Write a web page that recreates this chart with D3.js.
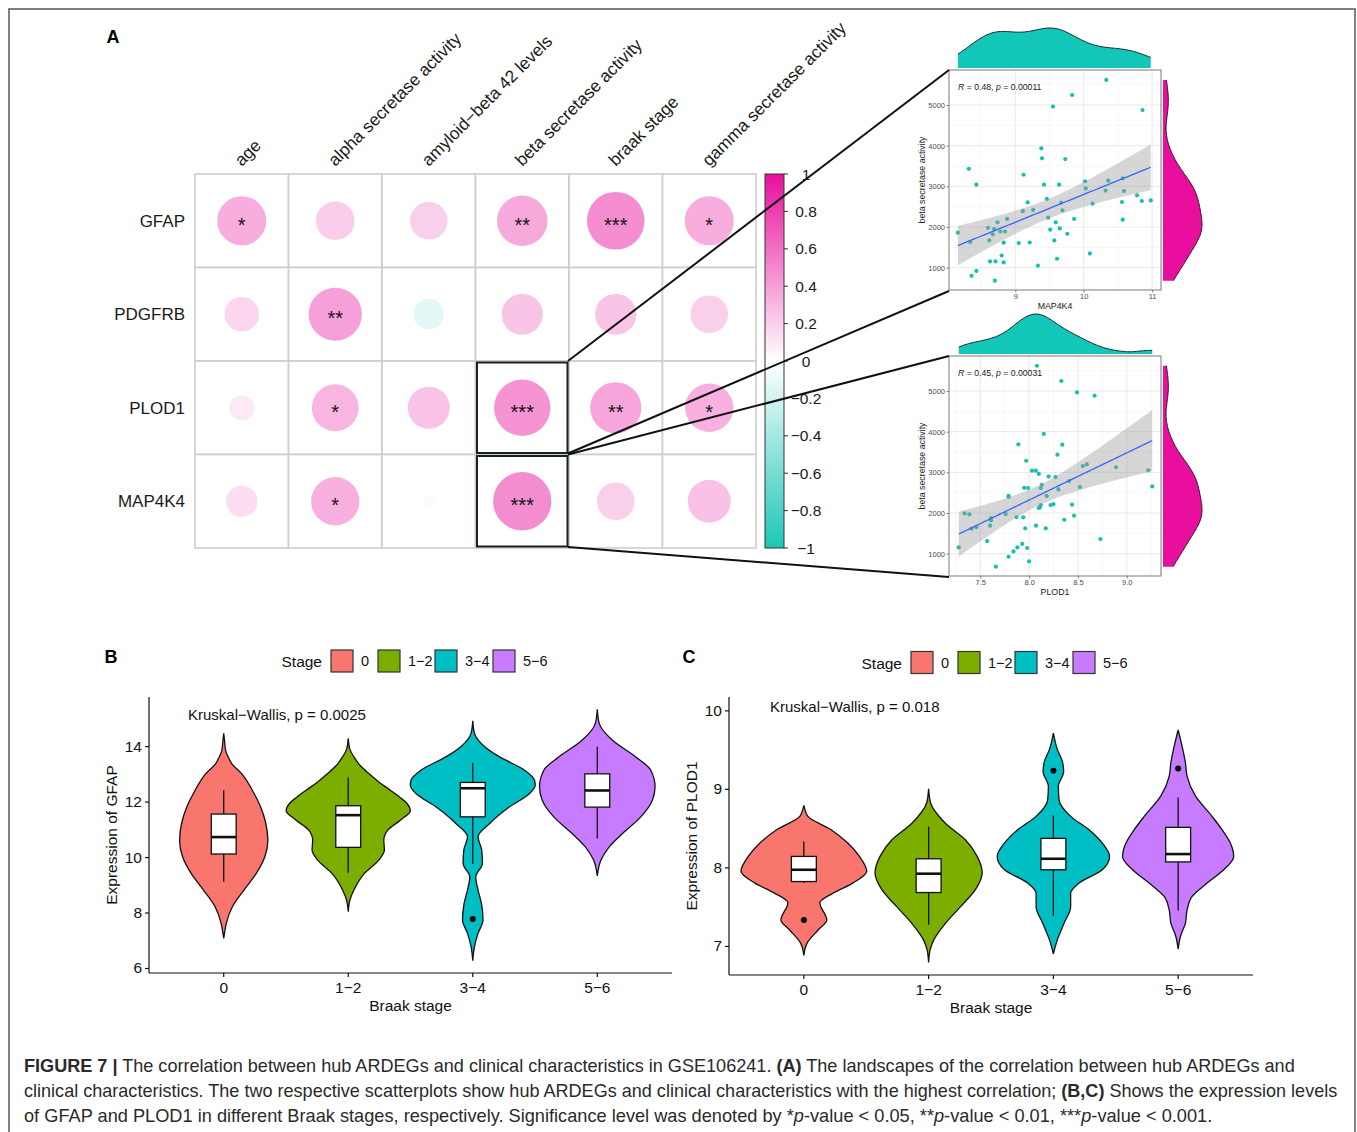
<!DOCTYPE html>
<html>
<head>
<meta charset="utf-8">
<script src="https://cdn.jsdelivr.net/npm/d3@7/dist/d3.min.js"></script>
<style>
  html, body { margin: 0; padding: 0; background: #fff; }
  svg { display: block; }
  text { font-family: "Liberation Sans", Arial, Helvetica, sans-serif; }
</style>
</head>
<body>
<svg id="fig" width="1357" height="1132"></svg>
<script>
// ---------------- Panel A: correlation landscape ----------------
const genes  = ["GFAP", "PDGFRB", "PLOD1", "MAP4K4"];
const traits = ["age", "alpha secretase activity", "amyloid\u2212beta 42 levels",
                "beta secretase activity", "braak stage", "gamma secretase activity"];
const corrGFAP   = [0.34, 0.21, 0.20, 0.36, 0.47, 0.34];
const corrPDGFRB = [0.17, 0.40, -0.13, 0.24, 0.24, 0.20];
const corrPLOD1  = [0.09, 0.31, 0.25, 0.45, 0.37, 0.33];
const corrMAP4K4 = [0.14, 0.33, 0.02, 0.48, 0.20, 0.26];
const starsGFAP   = ["*", "", "", "**", "***", "*"];
const starsPDGFRB = ["", "**", "", "", "", ""];
const starsPLOD1  = ["", "*", "", "***", "**", "*"];
const starsMAP4K4 = ["", "*", "", "***", "", ""];
const colorLegendTicks = [1, 0.8, 0.6, 0.4, 0.2, 0, -0.2, -0.4, -0.6, -0.8, -1];
const highlighted = [["PLOD1", "beta secretase activity"], ["MAP4K4", "beta secretase activity"]];

// scatter 1: MAP4K4 vs beta secretase activity
const map4k4Expr = [8.16, 8.32, 8.43, 8.34, 8.36, 8.43, 8.60, 8.62, 8.67, 8.69, 8.74, 8.78, 8.85, 8.83, 8.88,
  8.63, 8.71, 8.80, 8.83, 8.70, 9.05, 9.21, 9.11, 9.18, 9.26, 9.12, 9.33, 9.38, 9.39, 9.42, 9.46, 9.48, 9.51,
  9.55, 9.57, 9.59, 9.61, 9.64, 9.65, 9.67, 9.69, 9.73, 9.76, 9.83, 9.86, 10.02, 10.03, 10.09, 10.13, 10.33,
  10.32, 10.36, 10.57, 10.56, 10.57, 10.59, 10.78, 10.85, 10.86, 10.98];
const betaSecMAP = [1860, 3430, 3040, 1630, 800, 920, 1980, 1670, 1820, 1950, 2115, 1890, 1890, 1615, 2200,
  1155, 1155, 1300, 1130, 680, 1605, 1620, 2390, 2605, 2420, 3285, 1050, 3935, 3690, 3040, 2690, 2230, 1935,
  4960, 1670, 2115, 1220, 3040, 1965, 2600, 2410, 3670, 1835, 5245, 2200, 3125, 2950, 1350, 2575, 5615,
  2895, 3140, 3195, 2615, 2180, 2885, 2780, 2640, 4875, 2655];

// scatter 2: PLOD1 vs beta secretase activity
const plod1Expr = [7.28, 7.34, 7.39, 7.41, 7.46, 7.57, 7.60, 7.61, 7.61, 7.66, 7.76, 7.79, 7.79, 7.79, 7.84,
  7.87, 7.88, 7.89, 7.93, 7.94, 7.95, 7.96, 7.97, 7.98, 7.99, 8.00, 8.03, 8.07, 8.07, 8.08, 8.10, 8.10, 8.11,
  8.12, 8.13, 8.12, 8.15, 8.17, 8.18, 8.20, 8.22, 8.25, 8.27, 8.29, 8.30, 8.33, 8.34, 8.36, 8.41, 8.44, 8.46,
  8.49, 8.52, 8.55, 8.59, 8.67, 8.73, 8.89, 9.22, 9.26];
const betaSecPLOD = [1155, 1990, 1965, 1615, 1650, 1310, 1690, 1875, 1820, 680, 1975, 2395, 2425, 925, 1055,
  1900, 1155, 3690, 1240, 1895, 2620, 1625, 3285, 1140, 2615, 810, 3040, 1690, 3040, 5620, 2960, 2125, 2140,
  2615, 2695, 2195, 3945, 1625, 2420, 2895, 2195, 2220, 2885, 3435, 2580, 5245, 3680, 1835, 2785, 2205, 1935,
  4965, 2640, 3155, 3195, 4885, 1360, 3125, 3050, 2655];
const scatterR = ["0.48", "0.45"];
const scatterP = ["0.00011", "0.00031"];

// ---------------- Panels B and C: expression by Braak stage ----------------
const stages = ["0", "1\u22122", "3\u22124", "5\u22126"];
const stageColors = ["#F8766D", "#7CAE00", "#00BFC4", "#C77CFF"];

// violin outlines: [expression, density]
const gfapDensity = [
  [[14.46,0],[14.2,0.8],[13.83,2],[13.61,4.5],[13.37,8],[13.01,18],[12.41,28.7],[11.81,37],[11.21,42.3],[10.61,44.3],[10.01,41.3],[9.41,32.7],[8.81,20.3],[8.21,8.7],[7.61,2.6],[7.3,1],[7.07,0]],
  [[14.28,0],[13.9,1.5],[13.61,5.7],[13.3,12],[13.01,20.7],[12.7,31],[12.41,42.3],[12.15,52],[11.93,59],[11.67,62.3],[11.33,52.3],[10.97,39.7],[10.61,35.7],[10.25,36.3],[9.89,30.7],[9.41,16.3],[8.81,5.7],[8.45,1.7],[8.03,0]],
  [[14.91,0],[14.46,1.7],[13.98,12],[13.61,27],[13.13,52],[12.77,62],[12.59,62.7],[12.29,57],[11.81,37],[11.21,17],[10.73,5.3],[10.25,9],[9.77,9.7],[9.29,3],[8.81,5.3],[8.33,8.7],[7.73,10.3],[7.25,5.3],[6.77,1.7],[6.26,0]],
  [[15.33,0],[14.81,2],[14.21,15.3],[13.61,38.7],[13.13,53.7],[12.53,58],[12.05,55.3],[11.45,43.7],[10.85,25.3],[10.37,12],[9.89,3.7],[9.32,0]]
];
const gfapWhiskerLow  = [9.11, 9.43, 9.75, 10.67];
const gfapQ1          = [10.11, 10.35, 11.45, 11.80];
const gfapMedian      = [10.72, 11.51, 12.48, 12.40];
const gfapQ3          = [11.55, 11.85, 12.69, 13.00];
const gfapWhiskerHigh = [12.41, 12.87, 13.40, 13.98];
const gfapOutliers    = [[], [], [7.77], []];
const gfapTicks = [6, 8, 10, 12, 14];

const plod1Density = [
  [[8.79,0],[8.72,1.5],[8.65,4],[8.48,27.3],[8.31,44],[8.14,55.7],[7.95,63],[7.80,49],[7.67,29],[7.55,16],[7.33,23],[7.20,14],[7.03,3],[6.88,0]],
  [[9.00,0],[8.82,2],[8.56,17],[8.35,37],[8.14,48.7],[7.93,53.7],[7.72,47],[7.50,32],[7.29,17],[7.08,5.3],[6.95,1.5],[6.79,0]],
  [[9.71,0],[9.50,4],[9.35,9],[9.22,10.3],[9.03,5],[8.86,5.7],[8.65,17.3],[8.48,35.7],[8.31,49],[8.14,56.3],[7.97,49],[7.80,25.7],[7.67,17.3],[7.50,17.3],[7.29,10.7],[7.08,4],[6.90,0]],
  [[9.75,0],[9.54,4],[9.33,7.3],[9.16,9],[8.91,17.3],[8.65,34],[8.48,44],[8.31,52.3],[8.14,55.7],[7.97,45.7],[7.80,29],[7.63,14],[7.46,9],[7.29,7.3],[7.12,2.3],[6.96,0]]
];
const plod1WhiskerLow  = [7.80, 7.27, 7.38, 7.45];
const plod1Q1          = [7.82, 7.68, 7.97, 8.07];
const plod1Median      = [7.97, 7.92, 8.11, 8.17];
const plod1Q3          = [8.14, 8.11, 8.37, 8.51];
const plod1WhiskerHigh = [8.33, 8.52, 8.66, 8.89];
const plod1Outliers    = [[7.33], [], [9.23], [9.26]];
const plod1Ticks = [7, 8, 9, 10];

// ---------------- drawing ----------------
const svg = d3.select("#fig");
const defs = svg.append("defs");

// outer frame
svg.append("path").attr("d", "M9,1140V9H1355V1140")
  .attr("fill", "none").attr("stroke", "#555").attr("stroke-width", 1.5);

// panel letters
[["A", 113, 43], ["B", 111, 663], ["C", 689, 663]].forEach(([t, x, y]) => {
  svg.append("text").attr("x", x).attr("y", y).attr("text-anchor", "middle")
    .attr("font-size", 18).attr("font-weight", "bold").attr("fill", "#000").text(t);
});

// ----- correlation matrix -----
const gA = svg.append("g");
const xA = d3.scaleBand().domain(traits).range([195, 756]);
const yA = d3.scaleBand().domain(genes).range([174, 548]);
const rA = d3.scaleSqrt().domain([0, 1]).range([0, 0.45 * xA.bandwidth()]);
const colA = d3.scaleLinear().domain([-1, 0, 1]).range(["#1CC7B7", "#FFFFFF", "#E80F9D"]);
const corrRows = [corrGFAP, corrPDGFRB, corrPLOD1, corrMAP4K4];
const starRows = [starsGFAP, starsPDGFRB, starsPLOD1, starsMAP4K4];
const cells = [];
genes.forEach((g, i) => traits.forEach((t, j) =>
  cells.push({ gene: g, trait: t, r: corrRows[i][j], star: starRows[i][j] })));
const cxA = d => xA(d.trait) + xA.bandwidth() / 2;
const cyA = d => yA(d.gene) + yA.bandwidth() / 2;

gA.selectAll("rect.cell").data(cells).join("rect").attr("class", "cell")
  .attr("x", d => xA(d.trait)).attr("y", d => yA(d.gene))
  .attr("width", xA.bandwidth()).attr("height", yA.bandwidth())
  .attr("fill", "#fff").attr("stroke", "#CDCDCD").attr("stroke-width", 1.6);
gA.selectAll("circle").data(cells).join("circle")
  .attr("cx", cxA).attr("cy", cyA)
  .attr("r", d => rA(Math.abs(d.r))).attr("fill", d => colA(d.r));
gA.selectAll("text.star").data(cells.filter(d => d.star)).join("text").attr("class", "star")
  .attr("x", cxA).attr("y", d => cyA(d) + 11).attr("text-anchor", "middle")
  .attr("font-size", 20).attr("fill", "#111").text(d => d.star);

gA.selectAll("text.row").data(genes).join("text").attr("class", "row")
  .attr("x", 185).attr("y", d => yA(d) + yA.bandwidth() / 2 + 6)
  .attr("text-anchor", "end").attr("font-size", 17).attr("fill", "#1a1a1a").text(d => d);
gA.selectAll("text.col").data(traits).join("text").attr("class", "col")
  .attr("transform", d => `translate(${xA(d) + xA.bandwidth() / 2},167) rotate(-45)`)
  .attr("font-size", 17.3).attr("fill", "#1a1a1a").text(d => d);

highlighted.forEach(([g, t]) => {
  gA.append("rect").attr("x", xA(t) + 1.5).attr("y", yA(g) + 1.5)
    .attr("width", xA.bandwidth() - 3).attr("height", yA.bandwidth() - 3)
    .attr("fill", "none").attr("stroke", "#152020").attr("stroke-width", 2);
});

// colour legend
const cbY = d3.scaleLinear().domain([-1, 1]).range([548, 174]);
const grad = defs.append("linearGradient").attr("id", "cbGrad")
  .attr("x1", 0).attr("y1", 1).attr("x2", 0).attr("y2", 0);
d3.range(-1, 1.001, 0.125).forEach(v => grad.append("stop")
  .attr("offset", (v + 1) / 2).attr("stop-color", colA(v)));
gA.append("rect").attr("x", 765).attr("y", cbY(1)).attr("width", 19)
  .attr("height", cbY(-1) - cbY(1)).attr("fill", "url(#cbGrad)")
  .attr("stroke", "#333").attr("stroke-width", 1);
const fmtLeg = d3.format("~g");
colorLegendTicks.forEach(v => {
  gA.append("line").attr("x1", 784).attr("x2", 788).attr("y1", cbY(v)).attr("y2", cbY(v))
    .attr("stroke", "#333").attr("stroke-width", 1);
  gA.append("text").attr("x", 806).attr("y", cbY(v) + 5.5).attr("text-anchor", "middle")
    .attr("font-size", 15.5).attr("fill", "#1a1a1a").text(fmtLeg(v));
});

// ----- scatter panels with marginal densities -----
function linreg(xs, ys) {
  const n = xs.length, mx = d3.mean(xs), my = d3.mean(ys);
  let sxx = 0, sxy = 0;
  xs.forEach((x, i) => { sxx += (x - mx) ** 2; sxy += (x - mx) * (ys[i] - my); });
  const b = sxy / sxx, a = my - b * mx;
  let sse = 0;
  xs.forEach((x, i) => { sse += (ys[i] - a - b * x) ** 2; });
  return { a, b, mx, sxx, n, s: Math.sqrt(sse / (n - 2)) };
}
function kde(values, n = 160) {
  const sorted = values.slice().sort(d3.ascending);
  const iqr = d3.quantileSorted(sorted, 0.75) - d3.quantileSorted(sorted, 0.25);
  const bw = 0.9 * Math.min(d3.deviation(values), iqr / 1.34) * Math.pow(values.length, -0.2);
  const [lo, hi] = d3.extent(values);
  return d3.range(n).map(i => {
    const x = lo + (hi - lo) * i / (n - 1);
    const d = d3.mean(values, v => Math.exp(-0.5 * ((x - v) / bw) ** 2)) / (bw * Math.sqrt(2 * Math.PI));
    return [x, d];
  });
}

function scatterPanel(c) {
  const g = svg.append("g");
  const x = d3.scaleLinear().domain(c.xDomain).range([c.left, c.right]);
  const y = d3.scaleLinear().domain(c.yDomain).range([c.bottom, c.top]);
  g.append("rect").attr("x", c.left).attr("y", c.top).attr("width", c.right - c.left)
    .attr("height", c.bottom - c.top).attr("fill", "#fff");
  // grid
  c.xMinor.forEach(v => g.append("line").attr("x1", x(v)).attr("x2", x(v)).attr("y1", c.top).attr("y2", c.bottom)
    .attr("stroke", "#F2F2F2").attr("stroke-width", 0.6));
  c.yMinor.forEach(v => g.append("line").attr("y1", y(v)).attr("y2", y(v)).attr("x1", c.left).attr("x2", c.right)
    .attr("stroke", "#F2F2F2").attr("stroke-width", 0.6));
  c.xMajor.forEach(v => g.append("line").attr("x1", x(v)).attr("x2", x(v)).attr("y1", c.top).attr("y2", c.bottom)
    .attr("stroke", "#E6E6E6").attr("stroke-width", 0.9));
  c.yMajor.forEach(v => g.append("line").attr("y1", y(v)).attr("y2", y(v)).attr("x1", c.left).attr("x2", c.right)
    .attr("stroke", "#E6E6E6").attr("stroke-width", 0.9));
  // points
  g.selectAll("circle").data(c.xs.map((v, i) => [v, c.ys[i]])).join("circle")
    .attr("cx", d => x(d[0])).attr("cy", d => y(d[1])).attr("r", 2.1).attr("fill", "#16C0B1");
  // regression with 95% band
  const fit = linreg(c.xs, c.ys);
  const [xmin, xmax] = d3.extent(c.xs);
  const grid = d3.range(81).map(i => xmin + (xmax - xmin) * i / 80).map(v => {
    const yh = fit.a + fit.b * v;
    const se = fit.s * Math.sqrt(1 / fit.n + (v - fit.mx) ** 2 / fit.sxx);
    return { v, yh, lo: yh - 2.0017 * se, hi: yh + 2.0017 * se };
  });
  g.append("path").datum(grid)
    .attr("d", d3.area().x(d => x(d.v)).y0(d => y(d.lo)).y1(d => y(d.hi)))
    .attr("fill", "#999").attr("fill-opacity", 0.4);
  g.append("path").datum(grid)
    .attr("d", d3.line().x(d => x(d.v)).y(d => y(d.yh)))
    .attr("fill", "none").attr("stroke", "#3366FF").attr("stroke-width", 1.3);
  g.append("rect").attr("x", c.left).attr("y", c.top).attr("width", c.right - c.left)
    .attr("height", c.bottom - c.top).attr("fill", "none").attr("stroke", "#7a7a7a").attr("stroke-width", 1);
  // axes
  const ax = g.append("g").attr("transform", `translate(0,${c.bottom})`)
    .call(d3.axisBottom(x).tickValues(c.xMajor).tickFormat(c.xFmt).tickSize(2.5).tickSizeOuter(0).tickPadding(1.5));
  const ay = g.append("g").attr("transform", `translate(${c.left},0)`)
    .call(d3.axisLeft(y).tickValues(c.yMajor).tickFormat(d3.format("d")).tickSize(2.5).tickSizeOuter(0).tickPadding(1.5));
  [ax, ay].forEach(a => {
    a.select(".domain").remove();
    a.selectAll("line").attr("stroke", "#555").attr("stroke-width", 0.7);
    a.selectAll("text").attr("font-size", 7.5).attr("fill", "#4D4D4D")
      .attr("font-family", '"Liberation Sans", Arial, sans-serif');
  });
  g.append("text").attr("x", (c.left + c.right) / 2).attr("y", c.bottom + 19)
    .attr("text-anchor", "middle").attr("font-size", 8.8).attr("fill", "#1a1a1a").text(c.xTitle);
  g.append("text").attr("transform", `translate(${c.left - 24},${(c.top + c.bottom) / 2}) rotate(-90)`)
    .attr("text-anchor", "middle").attr("font-size", 8.8).attr("fill", "#1a1a1a").text("beta secretase activity");
  const st = g.append("text").attr("x", c.left + 9).attr("y", c.top + 20).attr("font-size", 8.7).attr("fill", "#1a1a1a");
  st.append("tspan").attr("font-style", "italic").text("R");
  st.append("tspan").text(` = ${c.r}, `);
  st.append("tspan").attr("font-style", "italic").text("p");
  st.append("tspan").text(` = ${c.p}`);
  // marginal densities
  const dx = kde(c.xs), dy = kde(c.ys);
  const hx = d3.scaleLinear().domain([0, d3.max(dx, d => d[1])]).range([0, 40]);
  const hy = d3.scaleLinear().domain([0, d3.max(dy, d => d[1])]).range([0, 39]);
  const base = c.top - 2, baseR = c.right + 2;
  g.append("path").datum(dx).attr("d", d3.area().x(d => x(d[0])).y0(base).y1(d => base - hx(d[1])))
    .attr("fill", "#12C6B8");
  g.append("path").datum(dx).attr("d", d3.line().x(d => x(d[0])).y(d => base - hx(d[1])))
    .attr("fill", "none").attr("stroke", "#111").attr("stroke-width", 0.9);
  g.append("path").datum(dy).attr("d", d3.area().y(d => y(d[0])).x0(baseR).x1(d => baseR + hy(d[1])))
    .attr("fill", "#EA0E9E");
  g.append("path").datum(dy).attr("d", d3.line().y(d => y(d[0])).x(d => baseR + hy(d[1])))
    .attr("fill", "none").attr("stroke", "#111").attr("stroke-width", 0.9);
  return c;
}

const sc1 = scatterPanel({
  xs: map4k4Expr, ys: betaSecMAP, left: 949, right: 1161, top: 70, bottom: 290,
  xDomain: [8.03, 11.13], yDomain: [452, 5860],
  xMajor: [9, 10, 11], xMinor: [8.5, 9.5, 10.5],
  yMajor: [1000, 2000, 3000, 4000, 5000], yMinor: [500, 1500, 2500, 3500, 4500, 5500],
  xFmt: d3.format("d"), xTitle: "MAP4K4", r: scatterR[0], p: scatterP[0]
});
const sc2 = scatterPanel({
  xs: plod1Expr, ys: betaSecPLOD, left: 949, right: 1161, top: 356, bottom: 576,
  xDomain: [7.18, 9.35], yDomain: [452, 5860],
  xMajor: [7.5, 8, 8.5, 9], xMinor: [7.25, 7.75, 8.25, 8.75, 9.25],
  yMajor: [1000, 2000, 3000, 4000, 5000], yMinor: [500, 1500, 2500, 3500, 4500, 5500],
  xFmt: d3.format(".1f"), xTitle: "PLOD1", r: scatterR[1], p: scatterP[1]
});

// connectors from highlighted cells to the scatter panels
const conn = svg.append("g");
[[highlighted[0], sc1], [highlighted[1], sc2]].forEach(([[g, t], sc]) => {
  const xr = xA(t) + xA.bandwidth() - 1;
  conn.append("line").attr("x1", xr).attr("y1", yA(g)).attr("x2", sc.left).attr("y2", sc.top);
  conn.append("line").attr("x1", xr).attr("y1", yA(g) + yA.bandwidth() - 1).attr("x2", sc.left).attr("y2", sc.bottom + 1);
});
conn.selectAll("line").attr("stroke", "#111").attr("stroke-width", 2);

// ----- violin panels -----
function violinPanel(c) {
  const g = svg.append("g");
  const x = d3.scaleBand().domain(stages).range([c.left, c.right]).paddingInner(0).paddingOuter(0.1);
  const y = d3.scaleLinear().domain(c.yDomain).range([c.bottom, c.top]);
  const w = d3.scaleLinear().domain([0, 62.5]).range([0, x.step() / 2]);
  const bw = x.bandwidth() * 0.2;
  stages.forEach((s, i) => {
    const cx = x(s) + x.bandwidth() / 2;
    g.append("path").datum(c.density[i])
      .attr("d", d3.area().curve(d3.curveMonotoneY).y(d => y(d[0]))
        .x0(d => cx - w(d[1])).x1(d => cx + w(d[1])))
      .attr("fill", stageColors[i]).attr("stroke", "#111").attr("stroke-width", 1.3);
    g.append("line").attr("x1", cx).attr("x2", cx).attr("y1", y(c.q3[i])).attr("y2", y(c.hi[i]))
      .attr("stroke", "#111").attr("stroke-width", 1.3);
    g.append("line").attr("x1", cx).attr("x2", cx).attr("y1", y(c.q1[i])).attr("y2", y(c.lo[i]))
      .attr("stroke", "#111").attr("stroke-width", 1.3);
    g.append("rect").attr("x", cx - bw / 2).attr("y", y(c.q3[i])).attr("width", bw)
      .attr("height", y(c.q1[i]) - y(c.q3[i])).attr("fill", "#fff")
      .attr("stroke", "#111").attr("stroke-width", 1.3);
    g.append("line").attr("x1", cx - bw / 2).attr("x2", cx + bw / 2)
      .attr("y1", y(c.med[i])).attr("y2", y(c.med[i])).attr("stroke", "#111").attr("stroke-width", 2.6);
    c.out[i].forEach(v => g.append("circle").attr("cx", cx).attr("cy", y(v)).attr("r", 3).attr("fill", "#000"));
  });
  const ax = g.append("g").attr("transform", `translate(0,${c.bottom})`)
    .call(d3.axisBottom(x).tickSize(4).tickSizeOuter(0).tickPadding(5));
  const ay = g.append("g").attr("transform", `translate(${c.left},0)`)
    .call(d3.axisLeft(y).tickValues(c.ticks).tickFormat(d3.format("d")).tickSize(4).tickSizeOuter(0).tickPadding(3));
  ax.select(".domain").attr("d", `M${c.left},0H${c.right}`);
  ay.select(".domain").attr("d", `M0,${c.top}V${c.bottom}`);
  [ax, ay].forEach(a => {
    a.selectAll("path, line").attr("stroke", "#111").attr("stroke-width", 1.2);
    a.selectAll("text").attr("font-size", 15.5).attr("fill", "#111")
      .attr("font-family", '"Liberation Sans", Arial, sans-serif');
  });
  g.append("text").attr("x", (c.left + c.right) / 2).attr("y", c.bottom + 38)
    .attr("text-anchor", "middle").attr("font-size", 15.5).attr("fill", "#111").text("Braak stage");
  g.append("text").attr("transform", `translate(${c.left - 32},${(c.top + c.bottom) / 2}) rotate(-90)`)
    .attr("text-anchor", "middle").attr("font-size", 15.5).attr("fill", "#111").text(c.yTitle);
  g.append("text").attr("x", c.kw[0]).attr("y", c.kw[1]).attr("font-size", 15).attr("fill", "#111").text(c.kwText);
  // legend
  const lg = g.append("g").attr("transform", `translate(${c.legend[0]},${c.legend[1]})`);
  lg.append("text").attr("x", -9).attr("y", 17).attr("text-anchor", "end").attr("font-size", 15.5)
    .attr("fill", "#111").text("Stage");
  const keyOffsets = [0, 47, 104, 162];
  stages.forEach((s, i) => {
    lg.append("rect").attr("x", keyOffsets[i]).attr("y", 0).attr("width", 22).attr("height", 22)
      .attr("fill", stageColors[i]).attr("stroke", "#333").attr("stroke-width", 1.2);
    lg.append("text").attr("x", keyOffsets[i] + 30).attr("y", 16).attr("font-size", 14.5)
      .attr("fill", "#111").text(s);
  });
}

violinPanel({
  left: 149, right: 672, top: 697, bottom: 973, yDomain: [5.82, 15.77], ticks: gfapTicks,
  density: gfapDensity, lo: gfapWhiskerLow, q1: gfapQ1, med: gfapMedian, q3: gfapQ3, hi: gfapWhiskerHigh,
  out: gfapOutliers, yTitle: "Expression of GFAP", kwText: "Kruskal\u2212Wallis, p = 0.0025",
  kw: [188, 719.5], legend: [331, 650]
});
violinPanel({
  left: 729, right: 1253, top: 697, bottom: 975, yDomain: [6.63, 10.17], ticks: plod1Ticks,
  density: plod1Density, lo: plod1WhiskerLow, q1: plod1Q1, med: plod1Median, q3: plod1Q3, hi: plod1WhiskerHigh,
  out: plod1Outliers, yTitle: "Expression of PLOD1", kwText: "Kruskal\u2212Wallis, p = 0.018",
  kw: [770, 711.5], legend: [911, 651.5]
});

// ----- caption -----
const captionLines = [
  { width: 1272, parts: [["FIGURE 7 |", "b"], [" The correlation between hub ARDEGs and clinical characteristics in GSE106241. ", ""], ["(A)", "b"], [" The landscapes of the correlation between hub ARDEGs and", ""]] },
  { width: 1315, parts: [["clinical characteristics. The two respective scatterplots show hub ARDEGs and clinical characteristics with the highest correlation; ", ""], ["(B,C)", "b"], [" Shows the expression levels", ""]] },
  { width: 1189, parts: [["of GFAP and PLOD1 in different Braak stages, respectively. Significance level was denoted by *", ""], ["p", "i"], ["-value < 0.05, **", ""], ["p", "i"], ["-value < 0.01, ***", ""], ["p", "i"], ["-value < 0.001.", ""]] }
];
captionLines.forEach((ln, k) => {
  const t = svg.append("text").attr("x", 0).attr("y", 0).attr("font-size", 18).attr("fill", "#2a2a2a")
    .attr("font-family", '"Liberation Sans Narrow", "Liberation Sans", Arial, sans-serif')
    .attr("xml:space", "preserve").style("white-space", "pre");
  ln.parts.forEach(([s, f]) => {
    const ts = t.append("tspan").text(s);
    if (f === "b") ts.attr("font-weight", "bold");
    if (f === "i") ts.attr("font-style", "italic");
  });
  const len = t.node().getComputedTextLength();
  t.attr("transform", `translate(24,${1072 + k * 25}) scale(${ln.width / len},1)`);
});
</script>
</body>
</html>
